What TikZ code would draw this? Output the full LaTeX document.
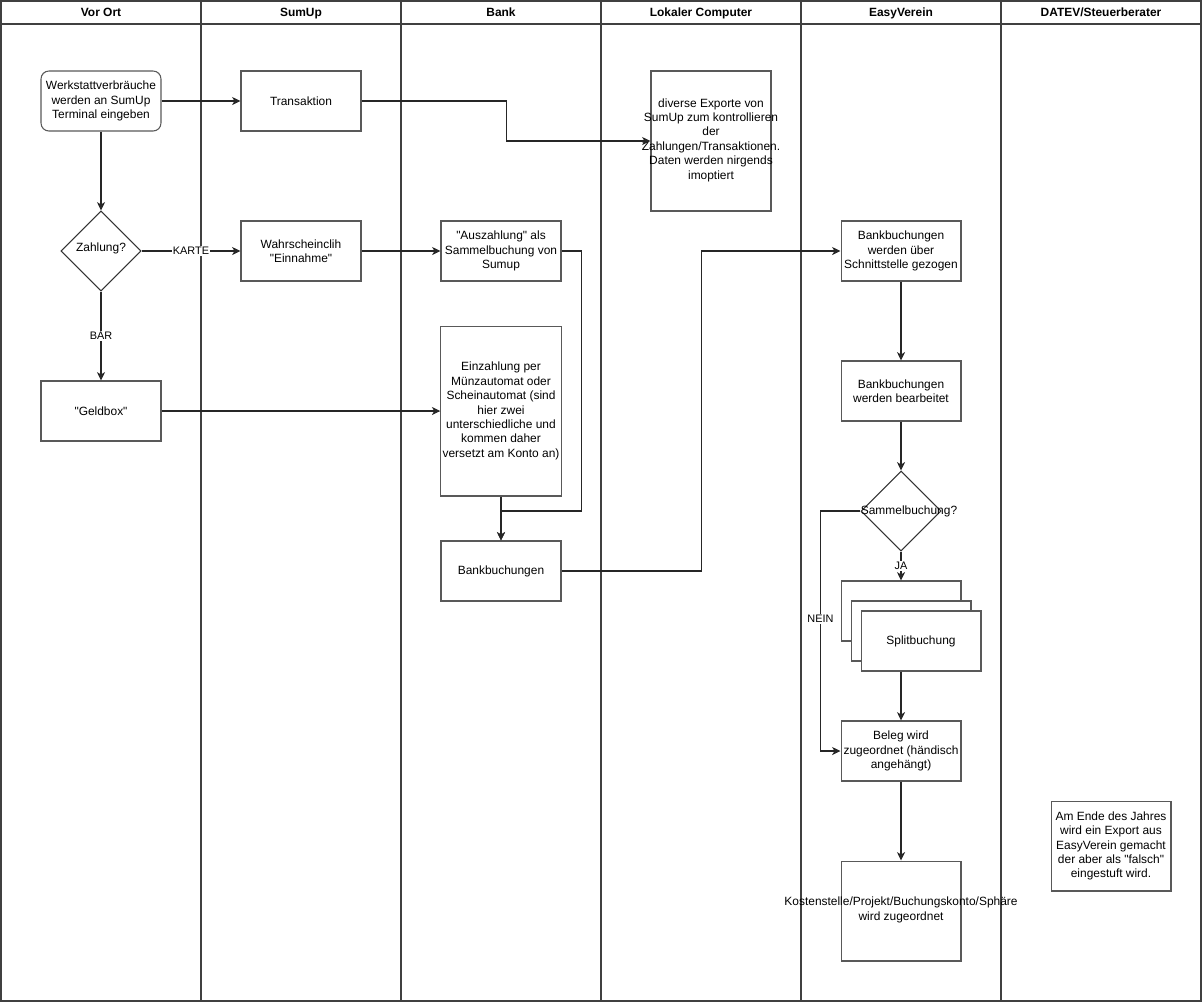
\documentclass[tikz,border=0pt]{standalone}
\usepackage{fontspec}
\setmainfont{Liberation Sans}
\usetikzlibrary{shapes.geometric}
\usetikzlibrary{arrows.meta}
\newcommand{\txtsize}{\fontsize{6.8}{8.2}\selectfont}
\newcommand{\lblsize}{\fontsize{6.2}{7}\selectfont}
\newcommand{\qq}{\textquotedbl}

\begin{document}
\begin{tikzpicture}[x=0.02cm, y=-0.02cm, >={Stealth[length=4.8pt, width=4.6pt, inset=1.4pt]},
lane/.style={draw=black!75, line width=.6pt},
kopf/.style={font=\txtsize\bfseries, inner sep=0, anchor=base},
box/.style={draw=black!65, line width=.6pt, fill=white, minimum width=2.4cm, minimum height=1.2cm, align=center, inner sep=1pt, font=\txtsize},
startbox/.style={box, rounded corners=4.5pt},
frage/.style={diamond, draw=black!80, line width=.6pt, fill=white, minimum width=1.6cm, minimum height=1.6cm, inner sep=0},
freitext/.style={align=center, font=\txtsize, inner sep=0},
fluss/.style={->, draw=black!85, line width=.6pt},
lbl/.style={fill=white, font=\lblsize, inner sep=.5pt}]
\useasboundingbox (0,0) rectangle (1202,1002);
% swimlanes
\draw[lane] (1,1) rectangle (1201,1001);
\draw[lane] (1,24) -- (1201,24);
\draw[lane] (201,1) -- (201,1001);
\draw[lane] (401,1) -- (401,1001);
\draw[lane] (601,1) -- (601,1001);
\draw[lane] (801,1) -- (801,1001);
\draw[lane] (1001,1) -- (1001,1001);
\node[kopf] (hVorOrt) at (101,16.5) {Vor Ort};
\node[kopf] (hSumUp) at (301,16.5) {SumUp};
\node[kopf] (hBank) at (501,16.5) {Bank};
\node[kopf] (hComputer) at (701,16.5) {Lokaler Computer};
\node[kopf] (hEasy) at (901,16.5) {EasyVerein};
\node[kopf] (hDatev) at (1101,16.5) {DATEV/Steuerberater};
% Vor Ort
\node[startbox] (werkstatt) at (101,101) {Werkstattverbräuche\\werden an SumUp\\Terminal eingeben};
\node[frage] (zahlung) at (101,251) {};
\node[freitext] (zahlungtxt) at (101,248) {Zahlung?};
\node[box] (geldbox) at (101,411) {\qq Geldbox\qq};
% SumUp
\node[box] (transaktion) at (301,101) {Transaktion};
\node[box] (einnahme) at (301,251) {Wahrscheinclih\\\qq Einnahme\qq};
% Bank
\node[box] (auszahlung) at (501,251) {\qq Auszahlung\qq{} als\\Sammelbuchung von\\Sumup};
\node[box, minimum height=3.4cm] (einzahlung) at (501,411) {Einzahlung per\\Münzautomat oder\\Scheinautomat (sind\\hier zwei\\unterschiedliche und\\kommen daher\\versetzt am Konto an)};
\node[box] (bankbuch) at (501,571) {Bankbuchungen};
% Lokaler Computer
\node[box, minimum height=2.8cm] (exporte) at (711,141) {};
\node[freitext] (exportetxt) at (711,140) {diverse Exporte von\\SumUp zum kontrollieren\\der\\Zahlungen/Transaktionen.\\Daten werden nirgends\\imoptiert};
% EasyVerein
\node[box] (schnitt) at (901,251) {Bankbuchungen\\werden über\\Schnittstelle gezogen};
\node[box] (bearbeitet) at (901,391) {Bankbuchungen\\werden bearbeitet};
\node[frage] (sammel) at (901,511) {};
\node[freitext] (sammeltxt) at (909,511) {Sammelbuchung?};
\node[box] (splitc) at (901,611) {};
\node[box] (splitb) at (911,631) {};
\node[box] (split) at (921,641) {Splitbuchung};
\node[box] (beleg) at (901,751) {Beleg wird\\zugeordnet (händisch\\angehängt)};
\node[box, minimum height=2cm] (kosten) at (901,911) {};
\node[freitext] (kostentxt) at (901,910) {Kostenstelle/Projekt/Buchungskonto/Sphäre\\wird zugeordnet};
% DATEV/Steuerberater
\node[box, minimum height=1.8cm] (jahresende) at (1111,846) {Am Ende des Jahres\\wird ein Export aus\\EasyVerein gemacht\\der aber als \qq falsch\qq\\eingestuft wird.};
% Verbindungen
\draw[fluss] (werkstatt) -- (transaktion);
\draw[fluss] (werkstatt) -- (zahlung);
\draw[fluss] (zahlung) -- node[lbl]{KARTE} (einnahme);
\draw[fluss] (zahlung) -- node[lbl]{BAR} (geldbox);
\draw[fluss] (transaktion.east) -- ++(145,0) |- (exporte.west);
\draw[fluss] (einnahme) -- (auszahlung);
\draw[fluss] (auszahlung.east) -- ++(20,0) -- ++(0,260) -| (bankbuch.north);
\draw[fluss] (geldbox) -- (einzahlung);
\draw[fluss] (einzahlung) -- (bankbuch);
\draw[fluss] (bankbuch.east) -- ++(140,0) |- (schnitt.west);
\draw[fluss] (schnitt) -- (bearbeitet);
\draw[fluss] (bearbeitet) -- (sammel);
\draw[fluss] (sammel) -- node[lbl]{JA} (splitc);
\draw[fluss] (sammel.west) -- ++(-40,0) -- node[lbl, pos=.45]{NEIN} ++(0,240) -- (beleg.west);
\draw[fluss] (split.south -| beleg) -- (beleg);
\draw[fluss] (beleg) -- (kosten);
\end{tikzpicture}
\end{document}
